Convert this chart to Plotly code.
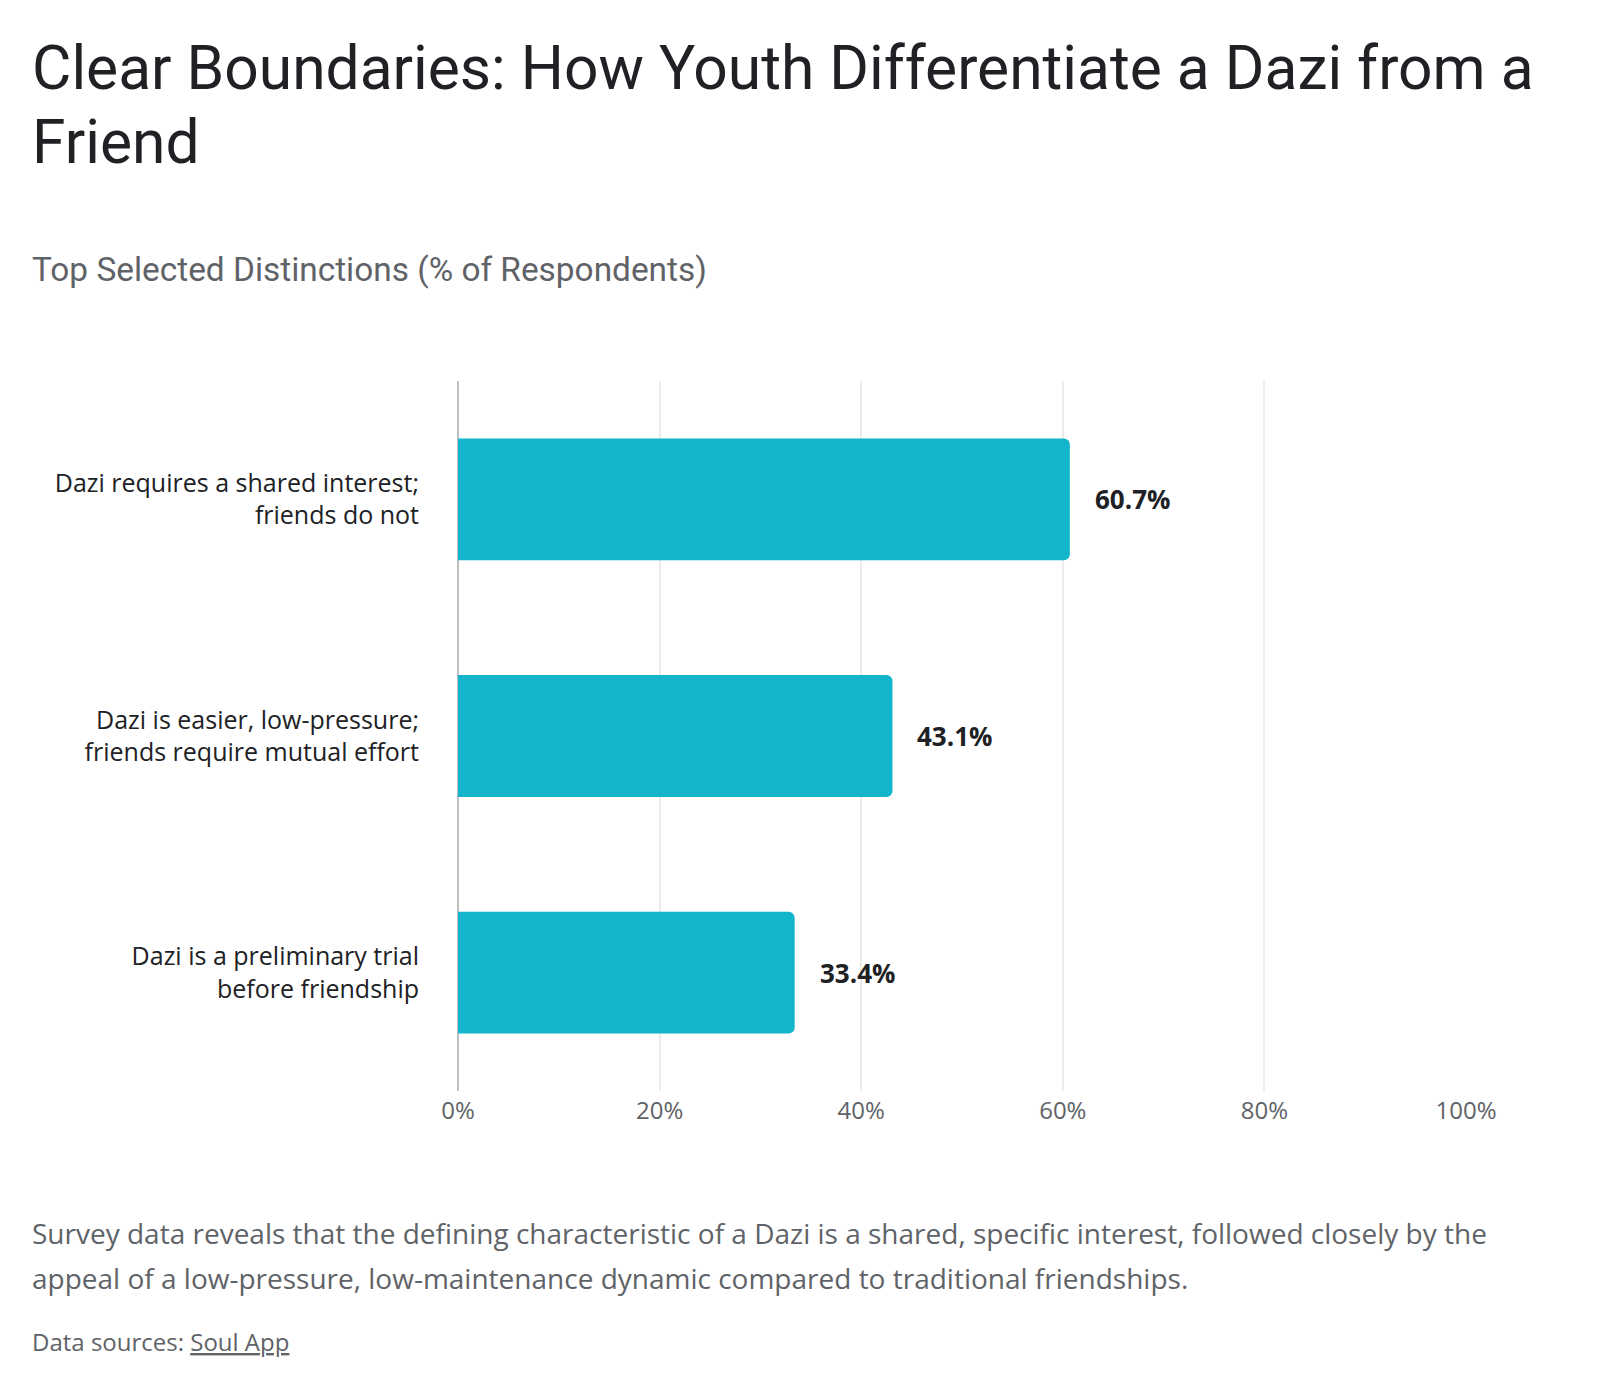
import plotly.graph_objects as go

categories = [
    "Dazi requires a shared interest;<br>friends do not",
    "Dazi is easier, low-pressure;<br>friends require mutual effort",
    "Dazi is a preliminary trial<br>before friendship",
]
values = [60.7, 43.1, 33.4]
value_labels = ["60.7%", "43.1%", "33.4%"]
tick_vals = [0, 20, 40, 60, 80, 100]
tick_text = ["0%", "20%", "40%", "60%", "80%", "100%"]

title_lines = ["Clear Boundaries: How Youth Differentiate a Dazi from a", "Friend"]
subtitle = "Top Selected Distinctions (% of Respondents)"
footer_lines = [
    "Survey data reveals that the defining characteristic of a Dazi is a shared, specific interest, followed closely by the",
    "appeal of a low-pressure, low-maintenance dynamic compared to traditional friendships.",
]
source_text = "Data sources: <u>Soul App</u>"

W, H = 1600, 1390
M_L, M_R, M_T, M_B = 458, 134, 381, 299
PLOT_H = H - M_T - M_B

TITLE_FONT = "Roboto, Arial, sans-serif"
BODY_FONT = "'Open Sans', Roboto, Arial, sans-serif"
DARK = "#202124"
GRAY = "#5f6368"
BAR = "#12B5CB"
LEFT = 30


def py(ypx):
    return (H - M_B - ypx) / PLOT_H


def px(xpx):
    return (xpx - M_L) / (W - M_L - M_R)


fig = go.Figure()
fig.add_trace(go.Bar(
    x=values,
    y=categories,
    orientation="h",
    marker=dict(color=BAR, cornerradius=6, line=dict(width=0)),
    width=0.515,
    hoverinfo="skip",
))

annotations = []
for v, lab, cat in zip(values, value_labels, categories):
    annotations.append(dict(
        x=v, y=cat, xref="x", yref="y", text="<b>" + lab + "</b>",
        showarrow=False, xanchor="left", yanchor="middle", xshift=23,
        font=dict(family=BODY_FONT, size=26, color=DARK),
    ))


def text_ann(ypx, text, font, size, color):
    return dict(
        x=px(LEFT), y=py(ypx), xref="paper", yref="paper", text=text,
        showarrow=False, xanchor="left", yanchor="middle",
        font=dict(family=font, size=size, color=color),
    )


annotations.append(text_ann(69, title_lines[0], TITLE_FONT, 60.5, DARK))
annotations.append(text_ann(142, title_lines[1], TITLE_FONT, 60.5, DARK))
annotations.append(text_ann(269, subtitle, TITLE_FONT, 33.4, GRAY))
annotations.append(text_ann(1233, footer_lines[0], BODY_FONT, 28, GRAY))
annotations.append(text_ann(1278, footer_lines[1], BODY_FONT, 28, GRAY))
annotations.append(text_ann(1341, source_text, BODY_FONT, 24, GRAY))

fig.update_layout(
    width=W, height=H,
    margin=dict(l=M_L, r=M_R, t=M_T, b=M_B, autoexpand=False),
    paper_bgcolor="white", plot_bgcolor="white",
    showlegend=False,
    annotations=annotations,
    xaxis=dict(
        range=[0, 100], tickvals=tick_vals, ticktext=tick_text,
        showgrid=True, gridcolor="#ececec", gridwidth=1.5,
        zeroline=True, zerolinecolor="#bfbfbf", zerolinewidth=2,
        showline=False, ticks="", ticklabelstandoff=3,
        tickfont=dict(family=BODY_FONT, size=24, color=GRAY),
        fixedrange=True,
    ),
    yaxis=dict(
        autorange="reversed", showgrid=False, zeroline=False, showline=False,
        ticks="", ticklabelstandoff=38,
        tickfont=dict(family=BODY_FONT, size=25, color=DARK),
        fixedrange=True,
    ),
)

fig.write_html("out.html", config={"displayModeBar": False})
